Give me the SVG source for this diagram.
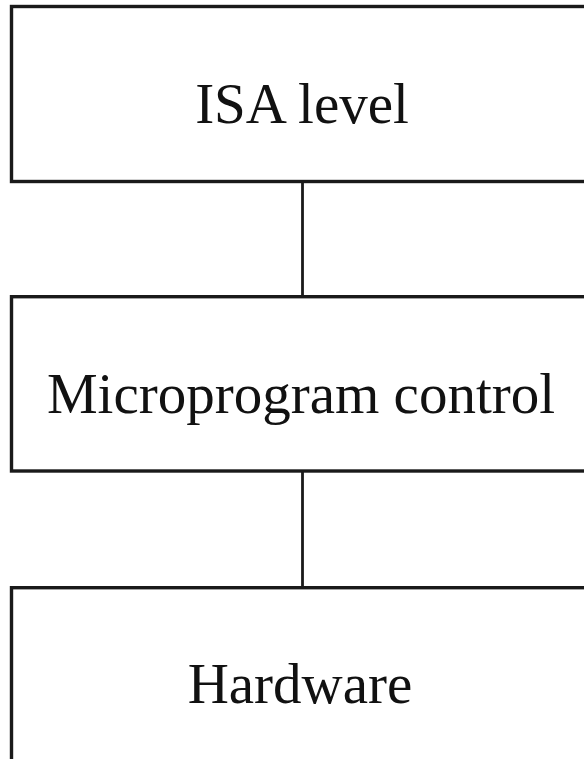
<svg xmlns="http://www.w3.org/2000/svg" width="584" height="759" viewBox="0 0 584 759">
  <style>
    .box { fill: #ffffff; stroke: #1a1a1a; stroke-width: 3.4; }
    .link { stroke: #1a1a1a; stroke-width: 2.8; fill: none; }
    .label { font-family: "Liberation Serif", "Times New Roman", serif; font-size: 57px; fill: #111111; text-anchor: middle; }
  </style>
  <rect width="584" height="759" fill="#ffffff"/>
  <g id="connectors">
    <line class="link" x1="302.5" y1="181.5" x2="302.5" y2="296.7"/>
    <line class="link" x1="302.5" y1="471" x2="302.5" y2="587.7"/>
  </g>
  <g id="isa-level">
    <rect class="box" x="11.5" y="6.5" width="585" height="175"/>
    <text class="label" x="302" y="123">ISA level</text>
  </g>
  <g id="microprogram-control">
    <rect class="box" x="11.5" y="296.7" width="585" height="174.3"/>
    <text class="label" x="301" y="412.7">Microprogram control</text>
  </g>
  <g id="hardware">
    <rect class="box" x="11.5" y="587.7" width="585" height="180"/>
    <text class="label" x="300" y="703">Hardware</text>
  </g>
</svg>
